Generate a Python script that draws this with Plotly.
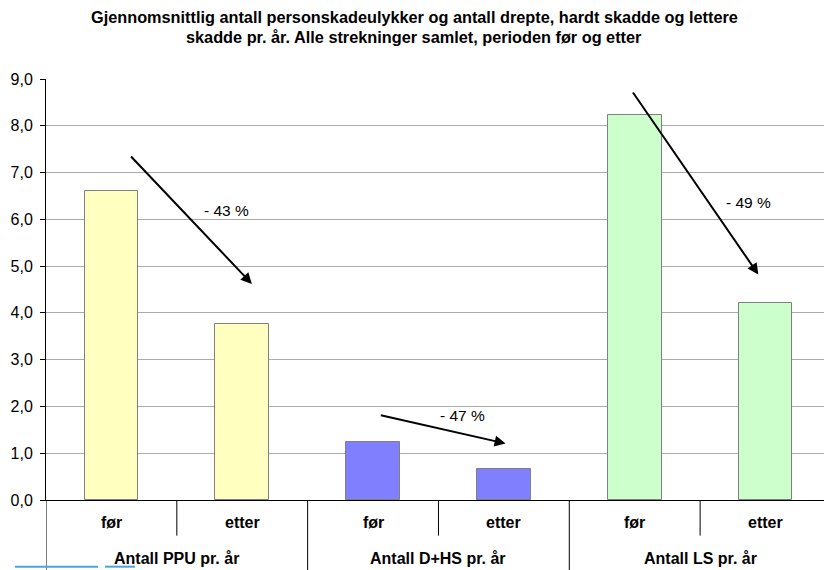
import plotly.graph_objects as go

# Data: average number per year, before (før) and after (etter)
groups = ["Antall PPU pr. år", "Antall D+HS pr. år", "Antall LS pr. år"]
periods = ["før", "etter"]
values_before = [6.6, 1.24, 8.24]
values_after = [3.77, 0.66, 4.22]
group_colors = ["#FFFFC0", "#8080FF", "#CCFFCC"]

y_ticks = [0, 1, 2, 3, 4, 5, 6, 7, 8, 9]

title_lines = [
    "Gjennomsnittlig antall personskadeulykker og antall drepte, hardt skadde og lettere",
    "skadde pr. år. Alle strekninger samlet, perioden før og etter",
]

FONT = "Liberation Sans, Arial, sans-serif"

categories = []
values = []
colors = []
for g, b, a, c in zip(groups, values_before, values_after, group_colors):
    categories += [f"{g}|{periods[0]}", f"{g}|{periods[1]}"]
    values += [b, a]
    colors += [c, c]

fig = go.Figure(
    go.Bar(
        x=categories,
        y=values,
        width=0.41,
        marker=dict(color=colors, line=dict(color="#808080", width=1)),
        hoverinfo="skip",
    )
)

annotations = []
shapes = []

# Two-line bold title, centred on the page
title_x = (414 - 46) / (824 - 46)
for line, ty in zip(title_lines, [1.1473, 1.0998]):
    annotations.append(dict(
        x=title_x, y=ty, xref="paper", yref="paper", text=f"<b>{line}</b>",
        showarrow=False, xanchor="center", yanchor="middle",
        font=dict(family=FONT, size=16.3, color="#000"),
    ))

# Category labels and dividers below the axis
LBL_Y = -0.0546
GRP_Y = -0.1378
SHORT_BOTTOM = -0.0846
LONG_BOTTOM = -0.17
for i, g in enumerate(groups):
    for j, p in enumerate(periods):
        annotations.append(dict(
            x=2 * i + j, y=LBL_Y, xref="x", yref="paper", text=f"<b>{p}</b>",
            showarrow=False, yanchor="middle",
            font=dict(family=FONT, size=16, color="#000"),
        ))
    annotations.append(dict(
        x=2 * i + 0.5, y=GRP_Y, xref="x", yref="paper", text=f"<b>{g}</b>",
        showarrow=False, yanchor="middle",
        font=dict(family=FONT, size=16, color="#000"),
    ))
    shapes.append(dict(type="line", xref="x", yref="paper",
                       x0=2 * i - 0.5, x1=2 * i - 0.5, y0=0, y1=LONG_BOTTOM,
                       line=dict(color="#000", width=1)))
    shapes.append(dict(type="line", xref="x", yref="paper",
                       x0=2 * i + 0.5, x1=2 * i + 0.5, y0=0, y1=SHORT_BOTTOM,
                       line=dict(color="#000", width=1)))

# Change arrows with percentage labels
arrow_geom = [
    # (tail x, tail y, head x, head y, label x, label y)
    (0.139, 7.375, 1.074, 4.62, 0.876, 6.18),
    (2.048, 1.817, 3.013, 1.208, 2.686, 1.80),
    (3.979, 8.743, 4.945, 4.82, 4.869, 6.35),
]
for (tx, ty, hx, hy, lx, ly), b, a in zip(arrow_geom, values_before, values_after):
    pct = round((a / b - 1) * 100)
    annotations.append(dict(
        x=hx, y=hy, ax=tx, ay=ty, xref="x", yref="y", axref="x", ayref="y",
        text="", showarrow=True, arrowhead=2, arrowsize=1.1, arrowwidth=2,
        arrowcolor="#000", standoff=0,
    ))
    annotations.append(dict(
        x=lx, y=ly, xref="x", yref="y", text=f"- {abs(pct)} %", showarrow=False,
        font=dict(family=FONT, size=15.5, color="#000"),
    ))

# Partial legend line at the lower-left edge
shapes.append(dict(type="line", xref="paper", yref="paper",
                   x0=-0.0398, x1=0.0668, y0=-0.1584, y1=-0.1584,
                   line=dict(color="#4AA3DF", width=2)))
shapes.append(dict(type="line", xref="paper", yref="paper",
                   x0=0.0758, x1=0.1144, y0=-0.1584, y1=-0.1584,
                   line=dict(color="#4AA3DF", width=2)))

fig.update_layout(
    width=824,
    height=570,
    margin=dict(l=46, r=0, t=79, b=70),
    paper_bgcolor="white",
    plot_bgcolor="white",
    separators=", ",
    showlegend=False,
    bargap=0,
    xaxis=dict(
        type="category",
        range=[-0.5, 5.447],
        showticklabels=False,
        showgrid=False,
        zeroline=False,
        showline=True,
        linecolor="#000",
        linewidth=1,
        ticks="",
        fixedrange=True,
    ),
    yaxis=dict(
        range=[0, 9],
        tickvals=y_ticks,
        tickformat=".1f",
        showgrid=True,
        gridcolor="#ABABAB",
        gridwidth=1,
        zeroline=False,
        showline=True,
        linecolor="#000",
        linewidth=1,
        ticks="outside",
        ticklen=5,
        tickcolor="#000",
        ticklabelstandoff=4,
        tickfont=dict(family=FONT, size=16, color="#000"),
        fixedrange=True,
    ),
    annotations=annotations,
    shapes=shapes,
)

fig.write_html("out.html")
